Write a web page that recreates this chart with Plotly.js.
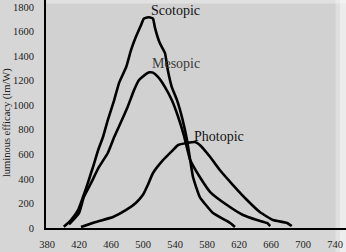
<!DOCTYPE html>
<html><head><meta charset="utf-8">
<script src="https://cdn.plot.ly/plotly-3.0.1.min.js"></script>
<style>html,body{margin:0;padding:0;background:#d6d6d6;}#c{width:346px;height:252px;}</style>
</head><body><div id="c"></div>
<script>
const scotopicX = [401,410,419,425,431,437.5,444,450,456,464,470,479,485,491,497.5,501,505,509,512.5,515,521,527.5,531,536,542.5,549,555,559,562.5,571,587.5,609,615];
const scotopicY = [10,65,147,252,366,497,635,741,879,1042,1180,1311,1449,1555,1652,1705,1715,1715,1705,1630,1506,1425,1286,1148,1042,895,716,553,415,252,122,41,8];
const mesopicX = [407.5,420,426,435,445,456,464,472.5,481,488.8,495,504,508,512.5,519,527.5,536,544,551,559,571,584,605,625,642.5,655,659];
const mesopicY = [30,122,252,366,497,611,741,863,990,1123,1205,1255,1268,1265,1229,1148,1042,904,757,553,415,293,187,106,65,41,16];
const photopicX = [422.5,441,462.5,479,491,500,506,512.5,525,537.5,544,555,565,571,584,596,612.5,630,646,662.5,680,686];
const photopicY = [8,49,90,147,204,270,350,448,553,635,676,692,700,676,578,472,350,228,130,65,41,16];
const xTicks = [380,420,460,500,540,580,620,660,700,740];
const yTicks = [0,200,400,600,800,1000,1200,1400,1600,1800];
const labels = [
  {text:'Scotopic', x:540, y:1775, color:'#111'},
  {text:'Mesopic', x:541, y:1343, color:'#3a3a3a'},
  {text:'Photopic', x:595, y:749, color:'#111'}
];
const line = {color:'#000', width:2.6, shape:'spline', smoothing:0.4};
const traces = [
  {x:scotopicX, y:scotopicY, mode:'lines', line:line, hoverinfo:'skip'},
  {x:mesopicX, y:mesopicY, mode:'lines', line:line, hoverinfo:'skip'},
  {x:photopicX, y:photopicY, mode:'lines', line:line, hoverinfo:'skip'}
];
const tickFont = {family:'Liberation Serif, serif', size:10.5, color:'#222'};
const ann = labels.map(l => ({x:l.x, y:l.y, xref:'x', yref:'y', text:l.text, showarrow:false,
  font:{family:'Liberation Serif, serif', size:14, color:l.color}}));
ann.push({xref:'paper', yref:'paper', x:-0.13, y:0.46, xanchor:'center', yanchor:'middle', text:'luminous efficacy (lm/W)', textangle:-90,
  showarrow:false, font:{family:'Liberation Serif, serif', size:10.5, color:'#222'}});
const layout = {
  width:346, height:252,
  margin:{l:46, r:0, t:0, b:24},
  paper_bgcolor:'#d6d6d6', plot_bgcolor:'#d1d1d1',
  showlegend:false,
  xaxis:{range:[378.75,753.75], tickvals:xTicks, ticktext:xTicks.map(String), showgrid:false, zeroline:false,
    showline:true, linecolor:'#000', linewidth:2, ticks:'', tickfont:tickFont, ticklabelstandoff:5, fixedrange:true},
  yaxis:{range:[0,1857], tickvals:yTicks, ticktext:yTicks.map(String), showgrid:false, zeroline:false,
    showline:true, linecolor:'#000', linewidth:2, ticks:'', tickfont:tickFont, ticklabelstandoff:8, fixedrange:true},
  annotations:ann,
  shapes:[
    {type:'rect', xref:'paper', yref:'paper', x0:0.965, x1:1.0, y0:-0.11, y1:1, fillcolor:'rgba(255,255,255,0.3)', line:{width:0}, layer:'below'},
    {type:'rect', xref:'paper', yref:'paper', x0:0.98, x1:1.0, y0:-0.11, y1:1, fillcolor:'rgba(255,255,255,0.4)', line:{width:0}, layer:'below'},
    {type:'rect', xref:'paper', yref:'paper', x0:0, x1:1.0, y0:0.985, y1:1, fillcolor:'rgba(255,255,255,0.35)', line:{width:0}, layer:'below'}
  ]
};
Plotly.newPlot('c', traces, layout, {displayModeBar:false, staticPlot:true});
</script></body></html>
